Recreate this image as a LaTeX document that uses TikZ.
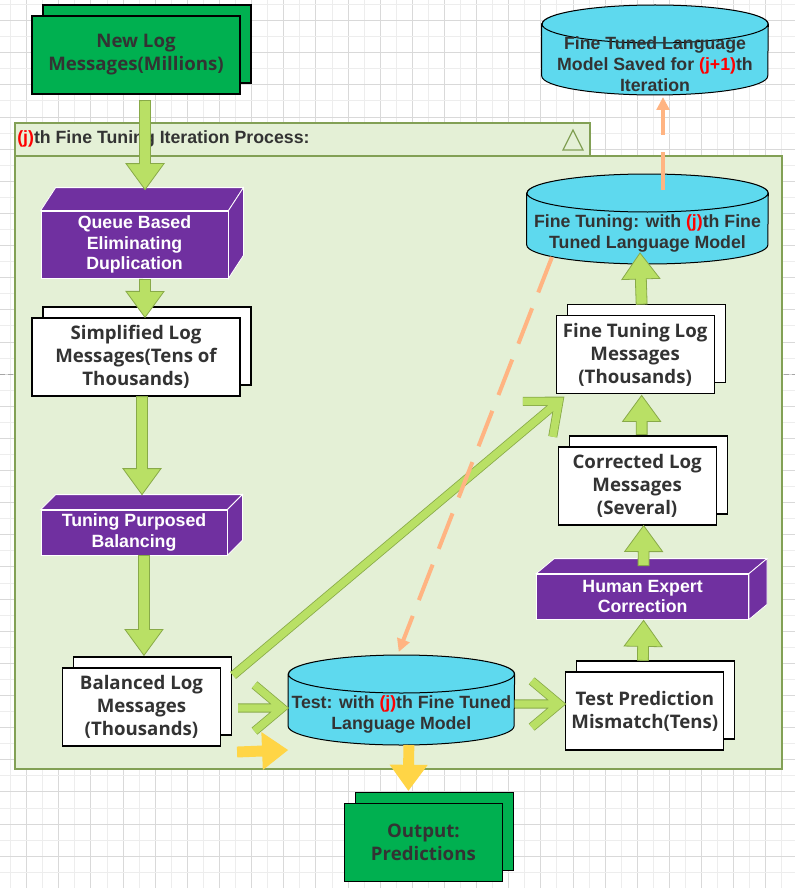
\documentclass[tikz,border=0pt]{standalone}
\usepackage{fontspec}
\setmainfont{Liberation Sans}
\newfontfamily\docfont{Open Sans}
\usetikzlibrary{positioning, calc, shadows, arrows.meta}

\definecolor{gridmajor}{RGB}{217,217,217}
\definecolor{gridminor}{RGB}{237,237,237}
\definecolor{framefill}{RGB}{228,240,214}
\definecolor{frameline}{RGB}{130,160,85}
\definecolor{docgreen}{RGB}{0,176,80}
\definecolor{cubepurple}{RGB}{112,48,160}
\definecolor{cylcyan}{RGB}{94,217,238}
\definecolor{arrowfill}{RGB}{185,224,101}
\definecolor{arrowline}{RGB}{136,170,72}
\definecolor{testyellow}{RGB}{255,213,70}
\definecolor{modelorange}{RGB}{255,180,130}
\definecolor{textgray}{RGB}{51,51,51}
\definecolor{jred}{RGB}{255,0,0}

\pgfdeclarelayer{back}
\pgfsetlayers{back,main}

\newcommand{\jth}[1]{\textcolor{jred}{(#1)}}

\tikzset{node distance=30pt, % only used as a fallback
minorline/.style={draw=gridminor, line width=0.75pt},
majorline/.style={draw=gridmajor, line width=0.75pt},
pagebreak/.style={draw=gray!70, line width=0.6pt, dash pattern=on 4pt off 2pt},
frame/.style={fill=framefill, draw=frameline, line width=0.9pt}, % the iteration container
headtext/.style={inner sep=0pt, text=textgray,
  font=\bfseries\fontsize{13.3}{16}\selectfont},
doc/.style={ % a document with a copy behind it
  draw=black, fill=#1, line width=0.9pt, inner sep=0pt,
  minimum width=118.5pt, minimum height=58.5pt, align=center, text=textgray,
  font=\docfont\bfseries\fontsize{14}{17.25}\selectfont,
  copy shadow={shadow xshift=8.25pt, shadow yshift=8.25pt, fill=#1, draw=black, line width=0.9pt}},
doc/.default=white,
cube/.style={ % front face of a process box
  fill=cubepurple, draw=white, line width=0.6pt, inner sep=0pt, align=center,
  text=white, font=\bfseries\fontsize{13.3}{15.4}\selectfont},
cubeside/.style={fill=cubepurple, draw=white, line width=0.6pt},
cyltext/.style={inner sep=0pt, align=center, text=textgray,
  font=\bfseries\fontsize{13.3}{15.75}\selectfont},
cyl/.style={fill=cylcyan, draw=black, line width=0.75pt},
flowarrow/.style={fill=arrowfill, draw=arrowline, line width=0.6pt},
testarrow/.style={fill=testyellow, draw=none},
modelflow/.style={draw=modelorange, line width=3pt, dash pattern=on 28.5pt off 12.75pt,
  -{Triangle[length=9.75pt,width=9.5pt]}}}

% block arrow with a triangular head: [style]{from}{tip}
\newcommand{\fatarrow}[3][flowarrow]{%
  \filldraw[#1] let \p1=#2, \p2=#3, \n1={atan2(\y2-\y1,\x2-\x1)} in
    ($(\p1)+({\n1+90}:4.1pt)$) -- ($(\p2)+({\n1+180}:19.5pt)+({\n1+90}:4.1pt)$)
    -- ($(\p2)+({\n1+180}:19.5pt)+({\n1+90}:14.25pt)$) -- (\p2)
    -- ($(\p2)+({\n1+180}:19.5pt)+({\n1-90}:14.25pt)$)
    -- ($(\p2)+({\n1+180}:19.5pt)+({\n1-90}:4.1pt)$)
    -- ($(\p1)+({\n1-90}:4.1pt)$) -- cycle;}

% thick line with an open head: {from}{tip}
\newcommand{\chevron}[2]{%
  \foreach \lw/\lc in {6.8pt/arrowline, 5.6pt/arrowfill}
    \draw[line width=\lw, draw=\lc] let \p1=#1, \p2=#2, \n1={atan2(\y2-\y1,\x2-\x1)},
      \p3=($(\p2)+({\n1+180}:4.5pt)$) in
      (\p1) -- (\p3) ($(\p3)+({\n1+140}:27pt)$) -- (\p3) -- ($(\p3)+({\n1-140}:27pt)$);}

% top and side face of a process box: {node}{dx}{dy}
\newcommand{\cubefaces}[3]{%
  \filldraw[cubeside] (#1.north west) -- ++(#2,-#3) -- ([shift={(#2,-#3)}]#1.north east)
    -- (#1.north east) -- cycle;
  \filldraw[cubeside] (#1.north east) -- ++(#2,-#3) -- ([shift={(#2,-#3)}]#1.south east)
    -- (#1.south east) -- cycle;}

% cylinder behind a model node: {node}{x radius}
\newcommand{\drawcyl}[2]{%
  \begin{pgfonlayer}{back}
  \filldraw[cyl] let \p1=(#1.west), \p2=(#1.east), \p3=(#1.center) in
    (\x1,\y3+30pt) -- (\x1,\y3-9pt) arc[start angle=180, end angle=360, x radius=#2, y radius=14.25pt]
    -- (\x2,\y3+30pt) arc[start angle=0, end angle=180, x radius=#2, y radius=14.25pt] -- cycle
    (\x3,\y3+30pt) ellipse[x radius=#2, y radius=14.25pt];
  \end{pgfonlayer}}

\begin{document}
\begin{tikzpicture}[x=0.75pt, y=-0.75pt]
\useasboundingbox (0,0) rectangle (795,888);

\begin{pgfonlayer}{back}
  \fill[white] (0,0) rectangle (795,888);
  % grid paper
  \foreach \k in {0,...,24} \draw[minorline] ({10.6+32.14*\k},0) -- ++(0,888);
  \foreach \k in {0,...,23} \draw[majorline] ({26.7+32.14*\k},0) -- ++(0,888);
  \foreach \k in {0,...,27} \draw[minorline] (0,{4.5+32.14*\k}) -- ++(795,0);
  \foreach \k in {0,...,26} \draw[majorline] (0,{20.6+32.14*\k}) -- ++(795,0);
  \draw[pagebreak] (0,374) -- (795,374);
  % the iteration container
  \filldraw[frame] (15,123) rectangle (590,156);
  \filldraw[frame] (15,156) rectangle (782,769);
  \draw[frame, fill=none] (563,150) -- (573,130) -- (583,150) -- cycle;
\end{pgfonlayer}

\node[headtext, anchor=west] (head) at (17,139) {\jth{j}th Fine Tuning Iteration Process:};

% left column
\node[doc=docgreen, minimum width=156pt] (nlog) at (136,55) {New Log\\Messages(Millions)};
\node[cube, minimum width=140.25pt, minimum height=50.25pt, below=87pt of nlog, xshift=-1.1pt] (queue)
  {Queue Based\\Eliminating\\Duplication};
\node[doc, minimum width=156pt, below=29.25pt of queue, xshift=1.1pt] (simp)
  {Simplified Log\\Messages(Tens of\\Thousands)};
\node[cube, minimum width=139.5pt, minimum height=33.75pt, below=84.75pt of simp, xshift=-1.5pt] (tpb)
  {Tuning Purposed\\Balancing};
\node[doc, below=84pt of tpb, xshift=5.6pt] (bal) {Balanced Log\\Messages\\(Thousands)};

% bottom row
\node[cyltext, minimum width=169.5pt, right=50.25pt of bal, yshift=-5.25pt] (test)
  {Test: with \jth{j}th Fine Tuned\\Language Model};
\node[doc, right=38pt of test, yshift=2.25pt] (mism) {Test Prediction\\Mismatch(Tens)};
\node[doc=docgreen] (outp) at (423.4,842.4) {Output:\\Predictions};

% right column
\node[cube, minimum width=159pt, minimum height=33.75pt, above=39pt of mism, xshift=-1.7pt] (hum)
  {Human Expert\\Correction};
\node[doc, above=36pt of hum, xshift=-4.1pt] (corr) {Corrected Log\\Messages\\(Several)};
\node[doc, above=39pt of corr, xshift=-1.5pt] (ftlog) {Fine Tuning Log\\Messages\\(Thousands)};
\node[cyltext, minimum width=180.75pt] (ft) at (647.5,233)
  {Fine Tuning: with \jth{j}th Fine\\Tuned Language Model};
\node[cyltext, minimum width=169.5pt] (saved) at (655,64)
  {Fine Tuned Language\\Model Saved for \jth{j+1}th\\Iteration};

\cubefaces{queue}{15}{23}
\cubefaces{tpb}{15}{15}
\cubefaces{hum}{18}{15}
\drawcyl{test}{84.75pt}
\drawcyl{ft}{90.4pt}
\drawcyl{saved}{84.75pt}

% flow
\fatarrow{($(nlog.south)+(9,6)$)}{($(queue.north)+(10.5,-21)$)}
\fatarrow{($(queue.south)+(10.5,1)$)}{($(simp.north)+(9,0)$)}
\fatarrow{($(simp.south)+(6,0)$)}{($(tpb.north)+(8,-15)$)}
\fatarrow{($(tpb.south)+(10,0)$)}{($(bal.north)+(2.5,-12)$)}
\chevron{($(bal.east)+(17,1)$)}{($(test.west)+(0,-6)$)}
\chevron{($(test.east)+(0,-10)$)}{($(mism.west)+(0,-7)$)}
\chevron{($(bal.north east)+(12,8)$)}{($(ftlog.south west)+(8,3)$)}
\fatarrow{($(mism.north)+(-2,-11)$)}{($(hum.south)+(1,1)$)}
\fatarrow{($(hum.north)+(1,-8)$)}{($(corr.south)+(6.5,0)$)}
\fatarrow{($(corr.north)+(4.5,-12)$)}{($(ftlog.south)+(6.5,1)$)}
\fatarrow{($(ftlog.north)+(6.5,-11)$)}{($(ft.center)+(-7.5,20)$)}
\fatarrow[testarrow]{($(bal.east)+(16,45)$)}{($(test.west)+(0,36)$)}
\fatarrow[testarrow]{($(test.center)+(7.5,31)$)}{($(outp.north)+(-15,-12)$)}

% model hand-over
\draw[modelflow] ($(ft.center)+(15.5,-43)$) -- ($(saved.center)+(8,33)$);
\draw[modelflow] ($(ft.center)+(-95.5,24)$) -- ($(test.center)+(-2.6,-62)$);

\end{tikzpicture}
\end{document}
